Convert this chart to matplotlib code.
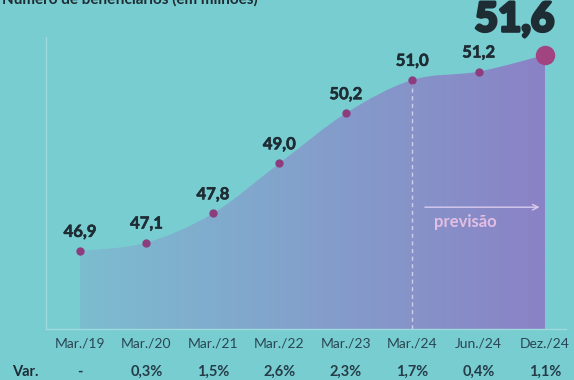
import numpy as np
import matplotlib
matplotlib.use("Agg")
import matplotlib.pyplot as plt
from matplotlib.path import Path
from matplotlib.patches import PathPatch
from matplotlib.transforms import blended_transform_factory
import matplotlib.patheffects as pe

categories = ["Mar./19", "Mar./20", "Mar./21", "Mar./22", "Mar./23", "Mar./24", "Jun./24", "Dez./24"]
values = [46.9, 47.1, 47.8, 49.0, 50.2, 51.0, 51.2, 51.6]
value_labels = ["46,9", "47,1", "47,8", "49,0", "50,2", "51,0", "51,2", "51,6"]
variation = ["-", "0,3%", "1,5%", "2,6%", "2,3%", "1,7%", "0,4%", "1,1%"]
title = "Número de beneficiários (em milhões)"
forecast_label = "previsão"

BG = "#78cdd0"
DARK = "#1e2c34"
DOT = "#8d3d7e"

W, H = 574, 380
fig = plt.figure(figsize=(W / 100, H / 100), dpi=100, facecolor=BG)
plt.rcParams["font.family"] = ["Lato", "DejaVu Sans"]

L, R, T, B = 46, 566, 37, 329
ax = fig.add_axes([L / W, 1 - B / H, (R - L) / W, (B - T) / H])
ax.set_facecolor(BG)
ax.set_xlim(-0.512, 7.316)
ax.set_ylim(45.03, 52.03)
for s in ["top", "right"]:
    ax.spines[s].set_visible(False)
for s in ["left", "bottom"]:
    ax.spines[s].set_color("#9fdadd")
    ax.spines[s].set_linewidth(1.0)
ax.set_yticks([])

x = np.arange(len(values))
y = np.array(values)

verts = [(x[0], y[0])]
codes = [Path.MOVETO]
n = len(x)
for i in range(n - 1):
    p0 = np.array([x[max(i - 1, 0)], y[max(i - 1, 0)]])
    p1 = np.array([x[i], y[i]])
    p2 = np.array([x[i + 1], y[i + 1]])
    p3 = np.array([x[min(i + 2, n - 1)], y[min(i + 2, n - 1)]])
    c1 = p1 + (p2 - p0) / 6.0
    c2 = p2 - (p3 - p1) / 6.0
    verts += [tuple(c1), tuple(c2), tuple(p2)]
    codes += [Path.CURVE4] * 3
ybot = ax.get_ylim()[0]
verts += [(x[-1], ybot), (x[0], ybot), (x[0], y[0])]
codes += [Path.LINETO, Path.LINETO, Path.CLOSEPOLY]
path = Path(verts, codes)
patch = PathPatch(path, facecolor="none", edgecolor="none")
ax.add_patch(patch)

c_left = np.array([0x7c, 0xbd, 0xd0]) / 255
c_right = np.array([0x8a, 0x82, 0xc6]) / 255
t = np.linspace(0, 1, 256)
grad = (c_left[None, :] * (1 - t[:, None]) + c_right[None, :] * t[:, None])[None, :, :]
im = ax.imshow(grad, extent=[x[0], x[-1], ybot, 52.0], aspect="auto", origin="lower", zorder=1)
im.set_clip_path(patch)

ax.plot([x[5], x[5]], [ybot, y[5]], color="#cfd0ee", lw=1.0, ls=(0, (3, 2.5)), zorder=2)

ax.plot(x[:-1], y[:-1], "o", color=DOT, ms=5, zorder=3)
ax.plot(x[-1], y[-1], "o", color="#a2447f", ms=13, zorder=3)

for i in range(n - 1):
    ax.annotate(value_labels[i], (x[i], y[i]), xytext=(0, 8), textcoords="offset points",
                ha="center", va="bottom", fontsize=12, fontweight="bold", color=DARK, zorder=4,
                path_effects=[pe.withStroke(linewidth=0.4, foreground=DARK)])
ax.annotate(value_labels[-1], (x[-1], y[-1]), xytext=(-22, 12), textcoords="offset points",
            ha="center", va="bottom", fontsize=29, fontweight="black", color=DARK, zorder=4,
            annotation_clip=False,
            path_effects=[pe.withStroke(linewidth=2.2, foreground=DARK)])

ax.annotate("", xy=(6.96, 47.95), xytext=(5.15, 47.95),
            arrowprops=dict(arrowstyle="->", color="#d8cbee", lw=1.0), zorder=4)
ax.text(5.8, 47.6, forecast_label, ha="center", va="center", fontsize=12, fontweight="bold",
        color="#e2bfe2", zorder=4)

ax.set_xticks(x)
ax.set_xticklabels(categories, fontsize=10, color="#2a4654")
ax.tick_params(axis="x", length=0, pad=6)

tr = blended_transform_factory(ax.transData, fig.transFigure)
yvar = 1 - 372 / H
fig.text(12 / W, yvar, "Var.", ha="left", va="center", fontsize=10.5, fontweight="bold", color=DARK)
for i, v in enumerate(variation):
    fig.text(x[i], yvar, v, transform=tr, ha="center", va="center", fontsize=10.5,
             fontweight="bold", color="#253c48")

fig.text(2 / W, 1 - 7 / H, title, ha="left", va="bottom", fontsize=11, fontweight="bold", color=DARK)

fig.savefig("out.png", dpi=100, facecolor=BG)
